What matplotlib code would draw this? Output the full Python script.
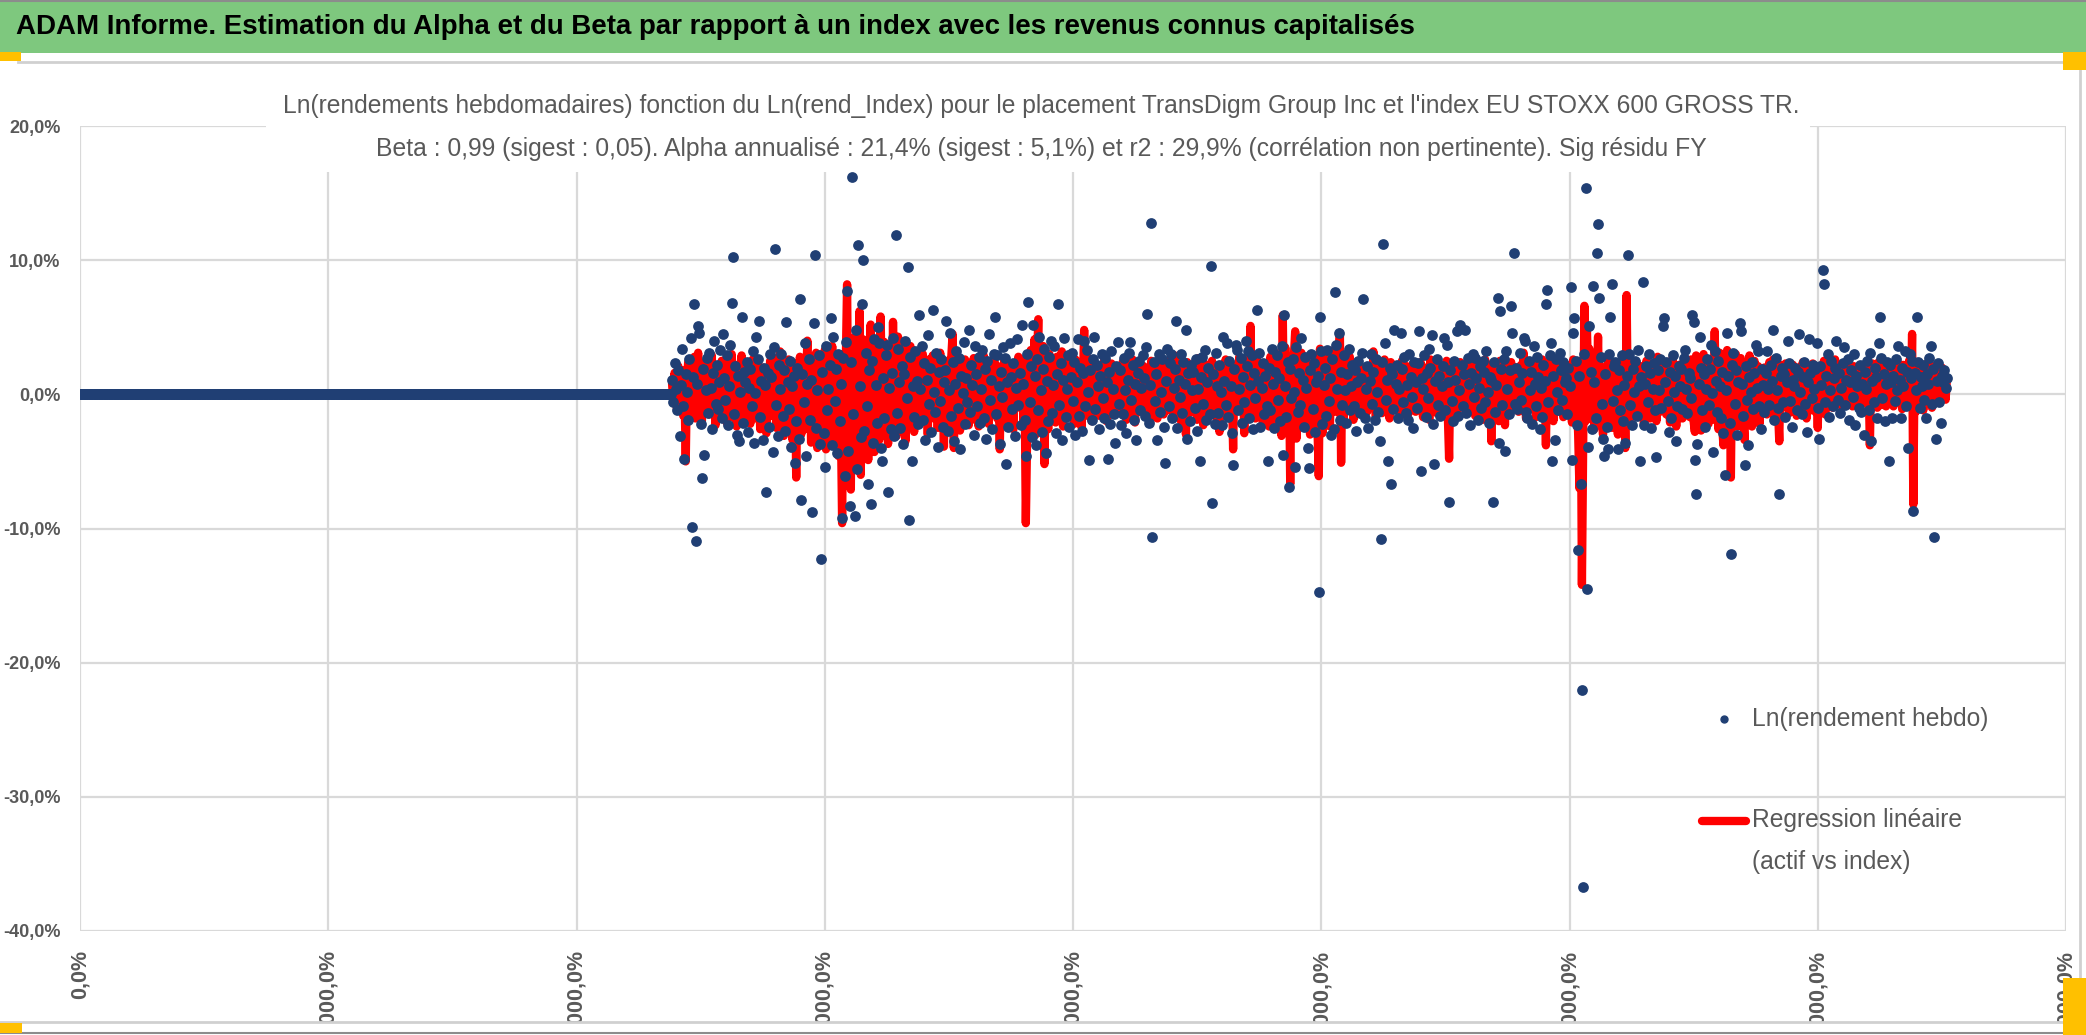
import matplotlib.pyplot as plt
import matplotlib.ticker as mticker
from matplotlib.patches import Rectangle
from matplotlib.lines import Line2D
import numpy as np

plt.rcParams['font.family'] = ['Liberation Sans', 'DejaVu Sans']

# ---- data (weekly log-returns in %) ----
# weeks before the first quotation are stored as zero returns
flat_weeks = [0.0] * 477

# Ln(rendement hebdo), one value per week from week 477
weekly_returns = [
    1.1, -0.6, 2.3, 0.4, -1.2, 1.8, -3.1, 0.7, 3.4, -0.9, -4.8, 1.5, 0.2, -1.9, 2.6, 4.2, -9.9, 1.3, 6.7, -10.9,
    0.8, 5.1, 4.6, -2.2, -6.2, 1.9, -4.5, 0.3, 2.7, -1.4, 3.1, 0.5, -2.6, 1.6, 4.0, -0.7, 2.2, -1.1, 0.9, 3.3,
    -1.8, 4.5, 1.2, -0.4, 2.9, -2.3, 0.6, 3.7, 6.8, 10.2, -1.5, 2.1, -3.0, 1.4, -3.5, 0.2, 5.8, -2.1, 1.7, 0.9,
    2.4, -2.8, 0.5, 1.9, -0.9, 3.2, -3.6, 0.1, 4.3, 2.6, 5.5, -1.7, 1.0, -3.4, 2.0, 0.7, -7.3, 1.6, -2.4, 3.0,
    1.3, -4.3, 3.5, 10.8, -0.8, -3.1, 2.2, 0.4, 3.0, -1.6, 1.8, -2.7, 5.4, 0.9, -1.1, 2.5, -3.9, 0.6, 1.4, -5.1,
    -2.0, 2.0, -3.3, 7.1, -7.9, 1.5, -0.6, 3.8, -4.6, 0.8, 2.6, -1.9, 1.1, -8.8, 5.3, 10.4, -2.5, 0.3, 2.9, -3.7,
    -12.3, 1.7, -2.9, -5.4, 3.6, -1.2, 0.4, 2.2, 5.7, -3.8, 4.3, -0.5, 1.9, -4.4, 3.0, -2.0, 0.8, -9.2, 2.7, -6.1,
    3.9, 7.7, -4.2, -8.3, 2.4, 16.2, -1.5, -9.1, 4.8, -5.6, 11.1, 0.6, -3.2, 6.7, 10.0, -2.7, 3.1, -0.9, -6.7, 1.8,
    -8.2, 2.5, -3.6, 4.1, 0.7, -2.1, 5.0, 3.8, -4.0, -5.0, 1.2, -1.8, 2.9, 3.7, -7.3, 0.5, -2.6, 1.6, 4.2, -3.1,
    11.9, -1.4, 3.4, 0.9, -2.5, 2.1, -3.7, 1.5, 4.0, -0.3, 9.5, -9.4, 2.8, -5.0, 0.6, -1.7, 3.2, 1.0, -2.2, 5.9,
    0.4, 3.6, -1.9, 2.3, -3.4, 1.1, 4.4, -0.7, 2.0, -2.8, 6.3, 0.2, -1.3, 3.1, -3.9, 1.7, -0.5, 2.6, -2.4, 0.9,
    1.8, 5.5, -2.7, 0.3, 4.6, -1.6, 2.4, -3.5, 0.8, 3.2, -1.0, 2.7, -4.1, 1.4, 0.1, 3.9, -2.2, 1.2, -0.6, 4.8,
    -1.3, 2.2, 0.7, -3.0, 3.6, 1.5, -0.9, 2.8, -2.1, 0.4, 3.3, -1.8, 1.9, -3.3, 2.5, 4.5, -0.4, 1.1, -2.6, 3.0,
    5.8, -1.5, 2.9, 0.6, -3.7, 1.7, -0.2, 3.5, 2.7, -5.2, 0.9, -2.4, 3.8, 1.3, -1.1, 2.3, -3.1, 0.5, 4.1, -0.8,
    1.6, -2.3, 5.2, 0.8, -1.9, -4.6, 3.0, 6.9, -0.6, 2.1, -3.2, 5.2, 1.4, -3.8, 2.6, -1.2, 4.3, 0.3, -2.8, 1.9,
    3.4, -4.4, 1.0, -2.0, 2.8, 4.0, -1.4, 0.7, 3.6, -2.9, 1.5, 6.7, -0.8, 2.3, -3.4, 1.1, 4.2, -1.7, 0.4, 2.9,
    -2.4, 1.3, 3.1, -0.5, 2.4, -3.0, 0.9, 4.1, -1.6, 2.0, -2.7, 1.6, 4.0, -0.9, 3.3, 0.2, -4.9, 1.8, -1.9, 2.6,
    4.3, -1.1, 2.2, 0.6, -2.6, 1.4, 3.0, -0.3, -1.8, 2.7, 0.9, -4.8, 1.7, -2.2, 3.2, 0.4, -1.5, -3.6, 2.1, 3.9,
    -0.7, 1.8, -2.3, -1.5, 2.7, 0.3, -2.9, 1.1, 3.1, 3.9, -0.4, 2.2, -1.9, 0.8, -3.4, 1.6, 2.5, -1.2, 0.5, 2.9,
    1.2, -1.6, 3.5, 6.0, -2.1, 0.7, 12.8, -10.6, 2.4, -0.5, 1.5, -3.4, 3.0, -1.3, 0.2, 2.6, -2.4, -5.1, 1.0, 3.4,
    -0.9, 2.3, 3.0, -1.8, 0.5, 1.9, 5.5, -2.5, 1.1, -0.2, 3.0, -1.4, 2.4, 0.8, 4.8, -3.3, 1.6, -2.0, 2.2, 0.3,
    1.7, -1.0, 2.6, -2.7, 0.4, -5.0, 1.3, 2.8, -0.7, 3.3, -1.9, 0.9, 2.0, -1.5, 9.6, -8.1, 1.5, -2.2, 3.1, 0.6,
    -1.4, 2.2, 0.2, -2.3, 4.3, 1.0, -0.8, 3.8, -1.7, 2.5, 0.6, -2.9, -5.3, 1.9, 3.7, 3.3, -1.2, 0.4, 2.7, -2.1,
    1.3, -0.6, 4.0, 2.1, 3.2, -1.8, 0.7, 2.9, -2.6, 1.6, -0.3, 6.3, 1.0, 3.1, -2.4, 0.5, 2.3, -1.5, 1.4, -0.9,
    -5.0, 2.0, -1.2, 3.4, 0.8, -2.5, 1.7, 2.9, -0.4, 1.2, -2.0, 3.6, -4.5, 5.9, 0.6, -1.7, 2.4, -6.9, 1.9, -0.3,
    2.6, 0.2, -5.4, 3.5, -1.3, 1.6, -0.8, 4.2, 1.1, -2.4, 2.8, 0.5, -4.0, -5.5, 1.8, 3.0, -1.1, 2.3, -2.8, 0.9,
    1.4, -14.7, 5.8, 3.2, -2.2, 0.7, 2.0, -1.6, 3.3, -0.5, 1.2, -3.0, 2.6, -2.6, 7.6, 3.7, 0.4, 4.6, -1.9, 1.7,
    -0.8, 2.9, 0.3, -2.1, 1.5, 3.4, -1.2, 0.6, 2.2, -0.9, 1.8, -2.7, 0.9, 2.5, -1.4, 1.2, 3.1, 7.1, -1.8, 0.4,
    2.1, -2.5, 1.0, 3.0, -0.7, 1.7, -1.9, 2.6, 0.2, -1.3, -3.5, -10.8, 2.4, 11.2, 3.8, -0.4, 1.1, -5.0, 2.0, -6.7,
    1.5, -1.1, 4.8, 0.8, 2.2, -1.8, 0.4, 4.6, 1.9, -0.6, 2.8, -1.4, 0.7, -1.9, 3.0, 1.3, -0.2, -2.5, 2.4, 0.9,
    -1.0, 2.3, 4.7, -5.7, 1.2, 0.4, 2.9, -1.7, 1.6, -0.3, 3.4, 2.0, 4.4, -2.2, -5.2, 1.0, 2.6, -0.8, 1.4, -1.6,
    0.6, 2.1, 4.2, -1.2, 3.7, 0.9, -8.0, 1.8, -0.5, -2.0, 2.5, 1.1, 4.7, -1.6, 0.3, 5.2, 2.2, -0.9, 1.5, 4.8,
    -1.4, 2.7, 0.8, -2.3, 1.6, 3.0, -0.2, 2.7, 1.2, -1.9, 0.5, 2.1, -1.0, 2.5, 1.7, -0.6, 3.2, 0.2, -2.1, 1.3,
    1.1, -8.0, 2.4, -1.3, 0.7, 7.2, -3.6, 6.2, 1.9, -0.8, 2.6, -4.2, 3.2, 0.4, -1.5, 1.8, 6.6, 4.6, 10.5, -0.7,
    2.0, -1.1, 0.9, 3.1, -0.4, 1.6, 4.2, 4.0, -1.3, -1.8, 2.5, 0.3, 1.7, -2.2, 3.6, 0.8, -0.9, 2.8, 1.3, -2.6,
    0.5, -1.7, 2.2, 1.0, 6.7, 7.8, -0.6, 2.9, 3.8, -5.0, 1.4, -3.4, 2.6, 0.2, -1.2, 3.1, 1.8, -0.4, 2.4, 0.9,
    1.2, -1.5, 2.0, 0.6, 8.0, -4.9, 4.6, 5.7, 2.5, -2.3, -11.6, 1.4, -6.7, -22.0, -36.7, 3.0, 15.4, -14.5, -3.9, 5.1,
    1.7, -2.6, 8.1, 0.9, -1.8, 10.5, 12.7, 7.2, 2.8, -0.7, -3.3, -4.6, 1.5, -2.4, -4.1, 3.0, 5.8, 8.2, -0.5, 2.1,
    2.4, 0.3, -4.1, 1.8, -1.2, 2.9, -2.0, 0.7, -3.6, 1.4, 10.4, 3.0, -0.8, -2.3, 1.9, 0.2, 2.5, -1.6, 3.3, 0.6,
    -5.0, 1.3, 8.4, -2.3, 0.8, 2.1, -0.6, 3.0, 1.6, -2.5, 0.4, 2.3, -1.2, -4.7, 1.8, 0.3, 2.6, -1.0, 5.1, 5.7,
    0.9, 2.4, -0.5, -2.8, 1.7, -1.8, 2.9, 0.2, 1.4, -3.5, -0.9, 2.1, 0.6, 1.9, -1.1, 2.7, 3.3, 0.4, -1.4, 1.6,
    1.2, -0.3, 5.9, 5.4, -4.9, -7.4, -3.7, 0.8, 4.3, 2.0, -1.2, 1.5, -2.4, 0.4, 2.6, -0.8, 1.9, 3.7, 0.1, -4.3,
    3.2, 1.0, -1.3, 2.5, 0.6, -1.8, 1.7, -2.9, -6.0, 0.3, 4.6, 1.4, -2.1, -11.9, 2.2, 3.1, -0.7, 1.8, -3.0, 0.9,
    5.3, 4.7, 0.8, -1.6, -5.3, 2.1, -0.4, -3.8, 1.3, 0.2, 2.4, -1.1, 1.6, 3.7, 0.5, 3.2, -0.9, -2.6, 1.9, 0.7,
    -1.3, 1.6, 3.2, 0.4, -0.8, 2.2, 1.0, 4.8, -1.9, 2.7, 0.3, -1.0, -7.4, 1.4, 2.0, -0.6, 1.5, -1.7, 0.9, 4.0,
    2.3, -0.5, -2.4, 1.1, 0.6, 2.0, -1.2, 1.7, 4.5, 0.2, -1.5, 1.3, 2.4, -0.7, -2.8, 0.9, 4.1, 1.6, -0.3, 2.2,
    0.4, 1.9, 3.8, -1.0, -3.3, 2.1, 0.7, 9.3, 8.2, -0.6, 1.4, 3.0, -1.7, 0.3, 2.5, -0.9, 1.2, 2.0, 4.0, -0.4,
    1.6, -1.4, 0.5, 2.3, 3.5, -0.8, 1.1, 2.6, -1.9, 0.9, 1.8, -0.2, 3.0, -2.3, 1.4, 0.6, -1.0, 2.2, -1.3, 0.8,
    -3.0, 1.7, 0.4, 2.5, -1.2, 3.1, -3.5, 1.0, -0.6, 2.0, 1.3, -1.8, 3.8, 5.8, 2.7, -0.3, 1.5, -2.0, 0.8, 2.4,
    -5.0, 2.2, 0.9, -1.8, 1.4, -0.5, 2.6, 0.3, 3.6, 1.1, -1.8, 2.0, 0.6, 3.2, -0.9, 1.7, -4.0, 3.0, 1.2, 2.5,
    -8.7, 1.6, 0.3, 5.8, 2.4, -1.0, 1.3, 0.6, 2.2, -0.4, -1.8, 1.5, 0.8, 2.7, 3.6, -0.7, 1.9, -10.6, -3.3, 1.0,
    2.3, -0.6, -2.1, 1.4, 0.9, 1.8, 0.5, 1.2,
]

# Regression linéaire (alpha + beta * index return), same weeks
regression = [
    0.8, -0.5, 1.6, 0.2, -1.1, 2.1, 0.4, -0.9, 1.8, -1.6, 0.6, -5.0, 1.3, 2.4, -0.7, 1.9, -1.4, 0.9, 2.8, -1.8,
    1.5, 3.1, -0.6, 2.2, -2.0, 0.7, 1.9, -1.2, 2.6, 0.3, -1.5, 1.7, 2.9, -0.8, 1.1, -2.3, 2.0, 0.5, -1.0, 1.4,
    2.5, -1.3, 0.9, 1.8, -2.1, 2.7, 0.1, -1.7, 3.0, 1.2, -0.6, 2.2, -2.4, 0.8, 1.6, -1.0, 2.9, -1.9, 1.3, 0.4,
    -1.2, 2.3, 0.6, -2.2, 1.7, 2.6, -0.9, 1.0, -1.8, 2.4, 0.3, -2.6, 1.5, 2.0, -1.4, 0.7, -2.9, 1.9, 0.2, 2.5,
    -1.6, 1.1, 2.7, -0.4, -2.5, 1.8, 0.5, 3.2, -1.9, 1.3, -3.1, 2.1, 0.8, -1.0, 2.6, -2.2, 1.4, -3.4, 0.9, 2.3,
    -6.2, 1.7, -1.5, 2.8, -3.0, 0.4, 2.2, -2.6, 1.0, 4.0, -1.8, 2.5, -3.6, 0.6, 1.9, -2.3, 3.1, -4.0, 1.2, -1.1,
    -3.5, 2.4, -1.2, 3.3, -4.1, 1.6, 2.9, -2.8, 0.7, 3.6, -3.3, 1.4, -0.5, 2.7, -4.6, 3.0, -2.0, -9.6, 1.8, -5.2,
    2.6, 8.2, -4.4, 3.5, -7.1, 4.2, -2.3, -5.5, 3.0, 1.1, -3.8, 6.2, -6.0, 2.4, 4.1, -3.2, 0.9, 3.3, -4.9, 2.0,
    5.2, -2.7, 1.9, -4.3, 3.6, -1.1, 2.8, -3.4, 5.8, 0.6, -2.9, 3.9, -1.5, 2.2, -3.7, 1.3, 3.4, -2.4, 5.4, -0.8,
    2.7, -3.1, 4.3, 0.4, -2.6, 3.8, -1.7, 1.5, -3.5, 2.9, 0.2, -2.2, 3.6, -1.3, 2.0, -2.8, 1.1, 3.2, -1.9, 0.7,
    2.2, -1.4, 3.0, 0.5, -2.0, 1.7, -3.0, 2.6, -0.9, 1.3, 2.9, -1.8, 0.6, 2.3, -2.5, 1.0, 3.1, -1.2, 0.8, -3.9,
    1.9, -0.7, 2.5, -2.1, 1.2, 2.8, 4.5, -4.0, 0.9, 2.1, -1.5, 1.6, -2.7, 2.4, 0.3, -1.3, 2.6, -0.5, 1.4, -2.3,
    2.0, -1.1, 0.6, 2.7, -1.9, 1.5, 0.2, -2.4, 2.3, 1.0, -0.8, 2.9, -1.6, 0.7, 1.8, -2.2, 2.5, -0.3, 1.2, -1.4,
    2.4, 0.5, -1.8, 1.6, -4.1, 2.1, -0.6, 1.3, 2.7, -2.0, 0.9, 1.7, -1.3, 2.2, 0.1, -2.6, 1.9, 0.6, -1.0, 2.8,
    -0.9, 1.5, 2.6, -2.3, 0.8, -9.6, -3.4, 2.9, -1.5, 3.3, -2.8, 1.4, 4.1, -3.0, 2.0, 5.6, -1.7, 2.4, 0.3, 3.6,
    -5.2, 1.1, 2.5, -2.6, 3.0, 0.4, -1.8, 2.2, 1.0, -2.1, 2.8, 0.2, -1.4, 1.9, 3.2, -2.4, 0.7, 1.6, -1.1, 2.3,
    0.6, -1.7, 2.1, 1.3, -2.2, 2.6, 0.1, -1.0, 1.8, 2.4, -2.5, 0.9, 4.8, -1.6, 1.2, 2.7, -0.4, 1.5, -2.0, 0.8,
    2.2, -0.8, 1.4, 0.3, -1.6, 2.0, 1.1, -1.3, 2.5, 0.5, -2.0, 1.7, 0.8, -0.9, 2.3, -1.5, 1.0, 2.1, -1.2, 0.6,
    1.8, -1.4, 0.7, 2.4, -0.6, 1.2, -1.9, 2.2, 0.4, 1.5, -1.1, 2.6, 0.9, -2.1, 1.6, 0.2, -1.3, 2.0, 1.0, -0.7,
    2.1, 0.5, -1.6, 1.9, 0.8, -2.2, 2.5, 1.1, -1.0, 2.3, 0.3, -1.8, 1.4, 2.7, -0.5, 1.2, -1.5, 2.0, 0.6, -1.2,
    1.7, 2.6, -0.9, 1.0, -1.7, 2.9, 0.4, -1.2, 1.8, 0.7, -2.0, 2.2, 1.3, -0.6, -3.0, 2.4, 0.2, -1.4, 1.6, 0.9,
    -1.1, 2.0, 0.6, -1.9, 2.7, 1.2, -0.4, 1.5, -2.3, 2.3, 0.8, -1.0, 1.9, 0.1, -1.6, 2.5, 1.0, -0.7, 2.1, -1.8,
    1.3, -2.8, 2.2, 0.5, -1.4, 1.8, 2.6, -0.8, 1.1, -1.7, 2.4, 0.3, -4.1, 1.6, 2.0, -1.2, 0.7, 2.8, -0.5, 1.4,
    0.9, -2.9, 1.7, 2.5, -1.3, 0.4, 5.1, -0.9, 2.1, 1.0, -1.8, 2.7, 0.2, -1.1, 1.5, 2.3, -2.2, 0.8, 1.9, -0.6,
    1.2, -2.4, 2.8, 0.6, -1.5, 3.2, -0.3, 1.8, -2.6, 2.4, 0.9, -3.1, 5.9, -1.9, 3.5, 0.4, -2.8, 2.2, -6.7, 1.6,
    -2.1, 2.9, 4.7, -3.3, 1.0, 2.3, -1.7, 3.1, 0.5, -2.5, 1.9, 2.6, -1.2, 0.8, -3.0, 2.2, 1.4, -1.6, 2.8, 0.3,
    -2.6, -6.1, 3.4, 1.2, -2.9, 2.5, 0.7, -1.8, 3.0, 1.6, -2.4, 2.1, -0.5, 3.3, -1.3, 1.9, 0.4, 2.7, 4.6, -5.1,
    1.5, -2.0, 2.4, 0.6, -1.2, 1.9, 2.8, -0.7, 1.1, -1.9, 2.2, 0.3, -1.0, 2.5, 1.4, -1.5, 0.9, 2.0, -0.4, 1.7,
    -1.3, 2.1, 0.8, 1.6, -0.9, 3.2, 0.5, -1.7, 2.3, 1.2, -0.6, 2.0, -1.4, 0.9, 2.6, -1.1, 1.5, 0.2, -1.8, 2.4,
    0.7, -1.2, 1.9, 2.2, -0.8, 1.3, 0.4, -1.6, 2.5, 0.9, -1.0, 1.7, 2.1, -1.5, 0.6, 1.4, -0.7, 2.3, 0.1, -1.3,
    1.8, 0.5, -1.1, 2.4, 1.0, -1.7, 0.8, 2.0, -0.5, 1.5, -1.9, 2.6, 0.3, -0.9, 1.6, 2.2, -1.4, 0.7, 1.9, -0.8,
    1.3, 2.0, -1.2, 0.6, 2.5, -1.6, -4.8, 1.7, 0.4, -0.9, 2.2, 1.1, -1.5, 1.8, 0.2, 2.4, -1.0, 0.9, 1.6, -0.6,
    2.1, -1.3, 0.7, 1.9, -0.4, 1.2, 2.3, -1.6, 0.5, 1.7, -1.1, 2.0, 0.8, -1.9, 1.4, 2.6, -0.7, 1.0, -1.4, 2.2,
    -3.5, 1.6, 0.3, 2.1, -1.2, 1.8, -2.0, 2.5, 0.6, -0.8, 1.4, -2.3, 2.2, 0.9, -1.5, 1.7, 2.4, -0.6, 1.1, -1.0,
    2.0, 0.4, -1.3, 1.5, 2.2, -0.9, 3.1, 0.7, -1.8, 1.9, 0.2, -1.1, 2.4, 1.0, -0.5, 1.6, -1.7, 2.3, 0.8, -1.2,
    1.4, 2.6, -0.8, 0.9, -3.8, 2.0, 1.3, -1.6, 2.8, 0.5, -2.0, 1.8, 0.6, -1.3, 2.4, 1.1, -0.9, 2.1, -1.7, 1.5,
    0.9, 2.2, -1.4, 1.7, 0.4, -2.1, 2.6, 1.0, -1.2, -0.5, -3.0, -7.0, 2.5, -14.2, -4.0, 6.6, -2.0, 5.0, 1.2, 3.4,
    -1.8, 2.4, 0.6, -2.6, 3.0, 0.2, 4.3, -1.5, 2.1, -1.1, -3.0, 1.9, 0.5, -2.0, 2.7, -0.8, 1.6, -2.5, 2.2, 0.4,
    1.3, -1.6, -3.0, 2.3, 0.7, -2.4, 2.0, 1.1, -4.0, 7.4, -1.2, 2.6, 0.3, -1.7, 1.8, 0.9, -1.0, 2.4, -0.6, 1.5,
    -1.4, 2.1, 0.8, -2.2, 1.7, 2.5, -0.9, 1.2, -1.8, 2.3, 0.5, -1.1, 1.9, -2.0, 2.8, 0.6, -1.3, 1.6, 2.2, -0.7,
    1.9, -1.5, 2.4, 0.3, -2.1, 1.4, 2.7, -1.0, 0.8, -2.4, 1.7, 2.2, -0.6, 1.1, -1.8, 2.5, 0.4, -1.3, 2.0, 0.9,
    -1.7, 2.6, 1.0, -2.0, -2.8, 2.9, 0.5, -1.6, 2.3, -2.7, 1.3, 3.0, -1.2, 0.7, 2.4, -2.2, 1.5, -0.8, 2.1, -1.9,
    4.7, -1.5, 2.2, -2.6, 3.1, 0.6, -2.3, -3.8, 2.8, -1.1, 3.3, -2.9, 1.4, -6.2, 2.5, -1.7, 0.9, 3.0, -2.4, 1.8,
    -1.3, 2.7, 0.8, -2.1, -3.4, 2.2, 1.3, -1.8, 2.9, 0.4, -2.4, 1.6, 2.5, -1.0, 0.6, 2.1, -2.2, 1.2, 0.3, -1.4,
    2.0, 0.7, -1.5, 1.8, 2.4, -0.9, 1.1, 2.6, -1.7, 0.5, 1.9, -1.2, -3.5, 2.2, 0.8, -1.0, 1.6, 2.3, -0.5, 1.2,
    -1.4, 1.9, 0.6, 2.2, -0.8, 1.3, -1.6, 2.0, 0.9, -1.1, 1.7, 2.4, -0.6, 1.0, -1.8, 2.1, 0.4, -1.2, 1.5, 2.3,
    0.2, -1.3, 1.8, -2.5, 2.1, 0.8, -0.9, 1.6, 2.5, -1.5, 0.6, 1.9, -0.4, 2.2, 1.1, -1.0, 1.4, 2.6, -0.7, 0.9,
    1.6, -0.8, 2.0, 0.5, 1.3, -0.6, 2.2, 0.9, -0.3, 1.8, 1.1, -0.9, 2.1, 0.4, 1.5, -0.7, 1.9, 0.8, -0.5, 1.7,
    0.6, 2.0, -0.7, 1.4, 0.9, -3.8, 1.7, 2.3, -0.4, 1.1, 1.9, -1.0, 2.4, 0.7, -0.8, 1.6, 2.2, 0.3, -0.9, 1.3,
    1.8, -0.6, 1.2, 2.1, -0.9, 0.8, 1.7, 2.5, -0.5, 1.4, 0.6, -1.1, 2.2, 1.0, -0.4, 1.9, 0.3, 2.6, -0.8, 4.5,
    -8.2, 2.2, -1.3, 1.6, 0.8, -0.7, 2.0, 1.1, -1.2, 1.7, 0.4, 2.3, -0.6, 1.4, 0.9, -1.0, 2.1, -0.3, 1.5, 0.7,
    1.9, -0.5, 1.2, 2.0, 0.3, 1.6, -0.4, 1.1,
]

y_ticks = [-40, -30, -20, -10, 0, 10, 20]
x_ticks = [0, 200, 400, 600, 800, 1000, 1200, 1400, 1600]

banner_text = ("ADAM Informe. Estimation du Alpha et du Beta par rapport à un index "
               "avec les revenus connus capitalisés")
title_1 = ("Ln(rendements hebdomadaires) fonction du Ln(rend_Index) pour le placement "
           "TransDigm Group Inc et l'index EU STOXX 600 GROSS TR.")
title_2 = ("Beta : 0,99 (sigest : 0,05). Alpha annualisé : 21,4% (sigest : 5,1%) et r2 : "
           "29,9% (corrélation non pertinente). Sig résidu FY")
label_dots = "Ln(rendement hebdo)"
label_line_1 = "Regression linéaire"
label_line_2 = "(actif vs index)"

# ---- figure ----
W, H = 2086, 1035
fig = plt.figure(figsize=(W / 100, H / 100), dpi=100)


def fx(px):
    return px / W


def fy(py):
    return 1 - py / H


grid_col = '#d9d9d9'
txt_col = '#595959'
dot_col = '#203f74'

ax = fig.add_axes([fx(80), fy(931), fx(2066) - fx(80), fy(126) - fy(931)])

n = min(len(weekly_returns), len(regression))
start = len(flat_weeks)
x_active = np.arange(start, start + n)
x_all = np.arange(start + n)
y_all = np.array(flat_weeks + weekly_returns[:n])

ax.plot(x_active, regression[:n], color='#ff0000', lw=6, zorder=2,
        solid_joinstyle='round', solid_capstyle='round')
ax.scatter(x_all, y_all, s=60, color=dot_col, linewidths=0, zorder=3)

ax.set_xlim(0, 1600)
ax.set_ylim(-40, 20)
ax.set_yticks(y_ticks)
ax.set_xticks(x_ticks)
ax.yaxis.set_major_formatter(mticker.FuncFormatter(lambda v, p: f"{v:.1f}%".replace('.', ',')))
ax.xaxis.set_major_formatter(mticker.FuncFormatter(lambda v, p: f"{v * 100:.1f}%".replace('.', ',')))
ax.grid(True, color=grid_col, lw=1.6, zorder=0)
ax.set_axisbelow(True)
for s in ax.spines.values():
    s.set_visible(False)
ax.tick_params(axis='both', length=0, colors=txt_col)
ax.tick_params(axis='y', pad=14, labelsize=13)
ax.tick_params(axis='x', pad=13.5, labelrotation=90, labelsize=15.5)
for lab in ax.get_xticklabels() + ax.get_yticklabels():
    lab.set_fontweight('bold')

# banner
fig.add_artist(Rectangle((0, fy(53)), 1, fy(0) - fy(53), transform=fig.transFigure,
                         facecolor='#7ec87e', edgecolor='none', zorder=1))
fig.add_artist(Line2D([0, 1], [fy(1), fy(1)], transform=fig.transFigure, color='#8c8c8c', lw=1.5))
t_banner = fig.text(fx(16), fy(27), banner_text, fontsize=22, fontweight='bold',
                    color='black', ha='left', va='center', zorder=6)

# chart frame
frame = dict(transform=fig.transFigure, color='#d0d0d0', lw=2, zorder=11)
fig.add_artist(Line2D([fx(18), fx(2080)], [fy(62), fy(62)], **frame))
fig.add_artist(Line2D([fx(2080), fx(2080)], [fy(62), fy(1022)], **frame))

# white band below the chart hides the cut-off tick labels
fig.add_artist(Rectangle((0, 0), 1, fy(1022), transform=fig.transFigure,
                         facecolor='white', edgecolor='none', zorder=10))
fig.add_artist(Line2D([0, fx(2080)], [fy(1022), fy(1022)], **frame))
fig.add_artist(Line2D([0, 1], [fy(1033), fy(1033)], transform=fig.transFigure,
                      color='#8c8c8c', lw=1.5, zorder=11))

# selection handles
for (x0, y0, x1, y1) in [(0, 52, 21, 61), (2063, 52, 2086, 70),
                         (0, 1023, 22, 1033), (2063, 978, 2086, 1035)]:
    fig.add_artist(Rectangle((fx(x0), fy(y1)), fx(x1) - fx(x0), fy(y0) - fy(y1),
                             transform=fig.transFigure, facecolor='#ffc000',
                             edgecolor='none', zorder=12))

# title box
fig.add_artist(Rectangle((fx(266), fy(172)), fx(1810) - fx(266), fy(115) - fy(172),
                         transform=fig.transFigure, facecolor='white', edgecolor='none', zorder=5))
t1 = fig.text(fx(1041), fy(106), title_1, fontsize=18, color=txt_col, ha='center', va='center', zorder=6)
t2 = fig.text(fx(1041), fy(149), title_2, fontsize=18, color=txt_col, ha='center', va='center', zorder=6)

# legend
fig.add_artist(Line2D([fx(1724)], [fy(719)], transform=fig.transFigure, marker='o',
                      markersize=5, color=dot_col, lw=0, zorder=6))
fig.add_artist(Line2D([fx(1702), fx(1746)], [fy(821), fy(821)], transform=fig.transFigure,
                      color='#ff0000', lw=6, solid_capstyle='round', zorder=6))
l1 = fig.text(fx(1752), fy(719), label_dots, fontsize=18, color=txt_col, ha='left', va='center', zorder=6)
l2 = fig.text(fx(1752), fy(820), label_line_1, fontsize=18, color=txt_col, ha='left', va='center', zorder=6)
l3 = fig.text(fx(1752), fy(862), label_line_2, fontsize=18, color=txt_col, ha='left', va='center', zorder=6)

# scale texts to the widths measured on the reference
fig.canvas.draw()
rend = fig.canvas.get_renderer()


def fit(t, width_px):
    w = t.get_window_extent(rend).width
    t.set_fontsize(t.get_fontsize() * width_px / w)


fit(t_banner, 1394)
fit(t1, 1516)
fit(t2, 1331)
fit(l2, 211)
l1.set_fontsize(l2.get_fontsize())
l3.set_fontsize(l2.get_fontsize())

fig.savefig('out.png', dpi=100)
